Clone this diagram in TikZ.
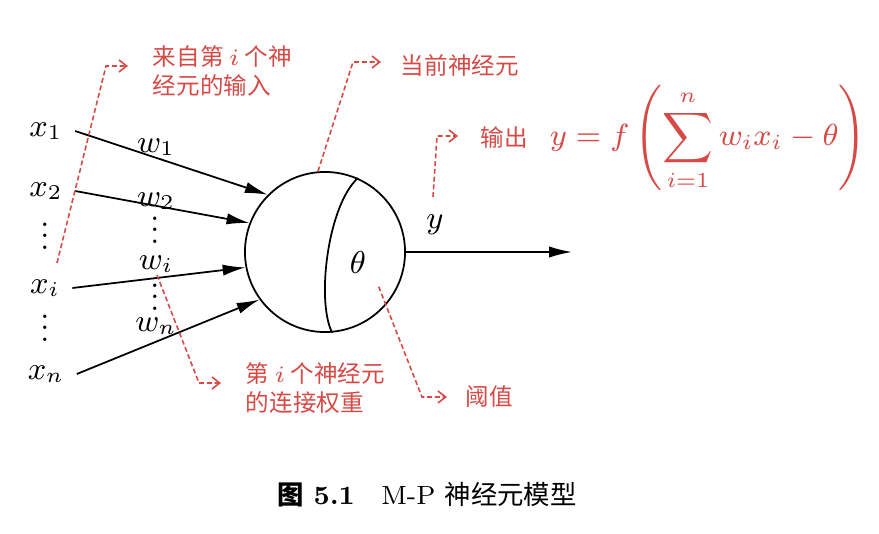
\RequirePackage{fix-cm}
\documentclass[tikz,border=0pt]{standalone}
\usepackage{fontspec}
\newfontfamily\cjk{Noto Sans CJK SC}
\usepackage{tikz}
\usetikzlibrary{arrows.meta,positioning}
\definecolor{notered}{RGB}{214,74,70}
\tikzset{>/.tip={Latex[length=6.5pt,width=3.2pt]}}
\tikzset{nb/.tip={Straight Barb[length=2.2pt,width=3.4pt]}}
\tikzset{lab/.style={font=\fontsize{9}{11}\selectfont}}
\tikzset{dts/.style={lab,inner sep=0pt}}
\tikzset{cell/.style={circle,draw,minimum size=1.6cm,inner sep=0pt}}
\tikzset{note/.style={draw=notered,line width=0.45pt,dash pattern=on 1.4pt off 0.8pt,-nb}}
\tikzset{notetext/.style={text=notered,font=\cjk\fontsize{6.7}{8}\selectfont,align=left,inner sep=0pt,anchor=west}}
\newcommand\vdts{\vbox{\baselineskip3.3pt\lineskiplimit0pt\hbox{.}\hbox{.}\hbox{.}}}

\begin{document}
\begin{tikzpicture}[x=0.01cm,y=-0.01cm,line width=0.5pt,node distance=0.2cm and 0.2cm]
      \useasboundingbox (0,0) rectangle (879,534);

      \node[lab](x1) at (46,131){$x_1$};
      \node[lab](x2) at (46,191){$x_2$};
      \node[dts](xd1) at (45,236){\vdts};
      \node[lab](xi) at (45,288){$x_i$};
      \node[dts](xd2) at (45,328){\vdts};
      \node[lab](xn) at (46,374){$x_n$};

      \node[lab](w1) at (156,147){$w_1$};
      \node[lab](w2) at (156,201){$w_2$};
      \node[dts](wd1) at (155,230){\vdts};
      \node[lab](wi) at (156,264){$w_i$};
      \node[dts](wd2) at (155,297){\vdts};
      \node[lab](wn) at (156,326){$w_n$};

      \node[cell](neuron) at (325,252){};
      \draw (neuron.66) .. controls (328,205) and (316,300) .. (neuron.-85);
      \node[lab](theta) at (358,263){$\theta$};
      \node[lab](ylab) at (435,225){$y$};
      \coordinate (yend) at (572,252);

      \draw[->] (x1.east) -- (neuron.135);
      \draw[->] (x2.east) -- (neuron.159);
      \draw[->] (xi.east) -- (neuron.191);
      \draw[->] (xn.east) -- (neuron.216);
      \draw[->] (neuron.east) -- (yend);

      \coordinate (inA) at (57,263);
      \coordinate (inB) at (106,66);
      \coordinate (inC) at (128,66);
      \node[notetext](intext) at (152,71){来自第 $i$ 个神\\经元的输入};
      \draw[note] (inA) -- (inB) -- (inC);

      \coordinate (nB) at (353,62);
      \coordinate (nC) at (381,62);
      \node[notetext](ntext) at (400,66){当前神经元};
      \draw[note] (neuron.95) -- (nB) -- (nC);

      \coordinate (oA) at (433,197);
      \coordinate (oB) at (437,136);
      \coordinate (oC) at (458,136);
      \node[notetext](otext) at (480,138){输出};
      \node[notetext,right=of otext,font=\fontsize{8.7}{11}\selectfont](formula)
        {$\displaystyle y=f\left(\sum_{i=1}^n w_ix_i-\theta\right)$};
      \draw[note] (oA) -- (oB) -- (oC);

      \coordinate (wA) at (157,275);
      \coordinate (wB) at (199,383);
      \coordinate (wC) at (221,383);
      \node[notetext](wtext) at (245,388){第 $i$ 个神经元\\的连接权重};
      \draw[note] (wA) -- (wB) -- (wC);

      \coordinate (tB) at (422,397);
      \coordinate (tC) at (447,397);
      \node[notetext](ttext) at (465,397){阈值};
      \draw[note] (theta.south east) -- (tB) -- (tC);

      \node[anchor=west,inner sep=0pt,font=\fontsize{7.5}{9}\selectfont](caption) at (277,495)
        {{\cjk\bfseries 图} \textbf{5.1}\quad M-P {\cjk 神经元模型}};
    \end{tikzpicture}
\end{document}
